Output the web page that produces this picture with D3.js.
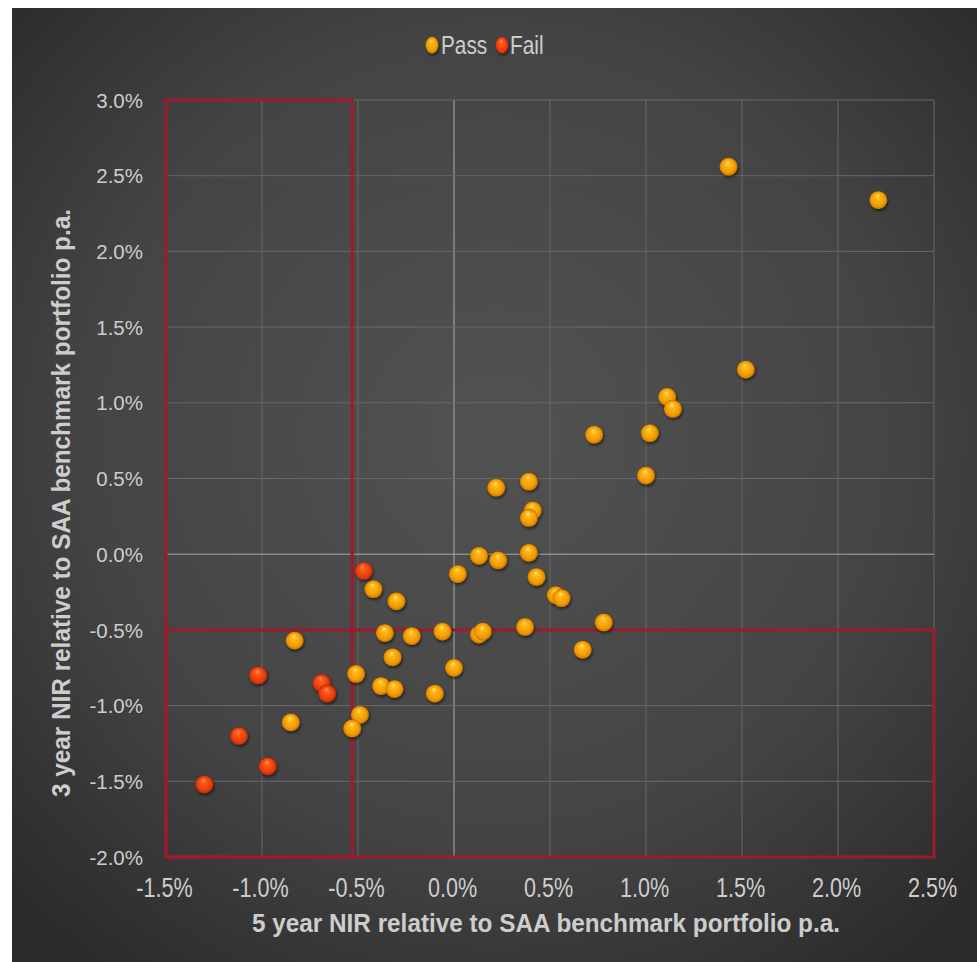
<!DOCTYPE html>
<html>
<head>
<meta charset="utf-8">
<script src="https://cdn.jsdelivr.net/npm/d3@7"></script>
<style>
  html, body { margin: 0; padding: 0; background: #ffffff; }
  svg { display: block; }
</style>
</head>
<body>
<svg id="chart" width="977" height="962"></svg>
<script>
// 5-year (x) and 3-year (y) net investment return relative to the SAA benchmark, % p.a.
const passX = [1.43, 2.21, 1.52, 1.11, 1.14, 0.73, 1.02, 1.00, 0.22, 0.39, 0.41, 0.39, 0.13, 0.23, 0.39, 0.02, 0.43, 0.53, 0.56,
               -0.42, -0.30, -0.36, -0.22, -0.06, 0.13, 0.15, 0.37, 0.78, 0.67, -0.32, 0.00, -0.51, -0.38, -0.31, -0.10, -0.83, -0.49, -0.53, -0.85];
const passY = [2.56, 2.34, 1.22, 1.04, 0.96, 0.79, 0.80, 0.52, 0.44, 0.48, 0.29, 0.24, -0.01, -0.04, 0.01, -0.13, -0.15, -0.27, -0.29,
               -0.23, -0.31, -0.52, -0.54, -0.51, -0.53, -0.51, -0.48, -0.45, -0.63, -0.68, -0.75, -0.79, -0.87, -0.89, -0.92, -0.57, -1.06, -1.15, -1.11];
const failX = [-0.47, -1.02, -0.69, -0.66, -1.12, -0.97, -1.30];
const failY = [-0.11, -0.80, -0.85, -0.92, -1.20, -1.40, -1.52];

const xTicks = [-1.5, -1.0, -0.5, 0.0, 0.5, 1.0, 1.5, 2.0, 2.5];
const yTicks = [-2.0, -1.5, -1.0, -0.5, 0.0, 0.5, 1.0, 1.5, 2.0, 2.5, 3.0];

// Underperformance zones outlined in red
const zoneX = -0.53;   // 5-year threshold
const zoneY = -0.5;    // 3-year threshold

const legendItems = ["Pass", "Fail"];

const W = 977, H = 962;
const plot = { left: 166, right: 934, top: 100, bottom: 857 };
const textColor = "#cdcdcd";
const sans = "'Liberation Sans', Arial, sans-serif";

const svg = d3.select("#chart");
const defs = svg.append("defs");

// Background gradient
const bg = defs.append("radialGradient").attr("id", "bgGrad")
  .attr("cx", "50%").attr("cy", "45%").attr("r", "70%");
bg.append("stop").attr("offset", "0%").attr("stop-color", "#525252");
bg.append("stop").attr("offset", "60%").attr("stop-color", "#444444");
bg.append("stop").attr("offset", "100%").attr("stop-color", "#2a2a2a");

// Sphere gradients
function sphere(id, stops) {
  const g = defs.append("radialGradient").attr("id", id)
    .attr("cx", "50%").attr("cy", "55%").attr("r", "55%")
    .attr("fx", "45%").attr("fy", "25%");
  stops.forEach(([o, c]) => g.append("stop").attr("offset", o).attr("stop-color", c));
}
sphere("passGrad", [["0%", "#ffe680"], ["25%", "#ffb81a"], ["70%", "#f09a00"], ["90%", "#c97400"], ["100%", "#8a5000"]]);
sphere("failGrad", [["0%", "#ffa070"], ["25%", "#ff5a1a"], ["70%", "#e83c08"], ["90%", "#b82a06"], ["100%", "#7a1a02"]]);

const shadow = defs.append("filter").attr("id", "shadow")
  .attr("x", "-50%").attr("y", "-50%").attr("width", "200%").attr("height", "200%");
shadow.append("feDropShadow").attr("dx", 1).attr("dy", 2).attr("stdDeviation", 1.6)
  .attr("flood-color", "#000").attr("flood-opacity", 0.55);

svg.append("rect").attr("x", 12).attr("y", 8).attr("width", W - 12).attr("height", H - 8)
  .attr("fill", "url(#bgGrad)");

const x = d3.scaleLinear().domain([-1.5, 2.5]).range([plot.left, plot.right]);
const y = d3.scaleLinear().domain([-2.0, 3.0]).range([plot.bottom, plot.top]);
const fmt = d => d3.format(".1f")(d).replace("\u2212", "-") + "%";

// Gridlines
const grid = svg.append("g");
grid.selectAll(".vx").data(xTicks).join("line")
  .attr("x1", d => x(d)).attr("x2", d => x(d))
  .attr("y1", plot.top).attr("y2", plot.bottom)
  .attr("stroke", d => d === 0 ? "#aaaaaa" : "#686868").attr("stroke-width", 1);
grid.selectAll(".hy").data(yTicks).join("line")
  .attr("x1", plot.left).attr("x2", plot.right)
  .attr("y1", d => y(d)).attr("y2", d => y(d))
  .attr("stroke", d => d === 0 ? "#aaaaaa" : "#686868").attr("stroke-width", 1);

// Axes (labels only)
const xAxis = svg.append("g").attr("transform", `translate(-2,${plot.bottom + 40})`)
  .call(d3.axisBottom(x).tickValues(xTicks).tickFormat(fmt).tickSize(0).tickPadding(0));
xAxis.select(".domain").remove();
xAxis.selectAll("text")
  .attr("fill", textColor)
  .attr("font-family", sans)
  .attr("font-size", 27).attr("dy", 0)
  .attr("transform", "scale(0.8,1)");

const yAxis = svg.append("g").attr("transform", `translate(${plot.left - 23},0)`)
  .call(d3.axisLeft(y).tickValues(yTicks).tickFormat(fmt).tickSize(0).tickPadding(0));
yAxis.select(".domain").remove();
yAxis.selectAll("text")
  .attr("fill", textColor)
  .attr("font-family", sans)
  .attr("font-size", 20.5).attr("dy", "0.35em");

// Red zone outlines
const zones = svg.append("g").attr("fill", "none").attr("stroke", "#9e1a2c").attr("stroke-width", 3);
zones.append("rect")
  .attr("x", x(-1.5)).attr("y", y(3.0))
  .attr("width", x(zoneX) - x(-1.5)).attr("height", y(-2.0) - y(3.0));
zones.append("rect")
  .attr("x", x(-1.5)).attr("y", y(zoneY))
  .attr("width", x(2.5) - x(-1.5)).attr("height", y(-2.0) - y(zoneY));

// Points
const passData = passX.map((v, i) => ({ x: v, y: passY[i] }));
const failData = failX.map((v, i) => ({ x: v, y: failY[i] }));
const R = 9;
svg.append("g").attr("filter", "url(#shadow)")
  .selectAll("circle").data(passData).join("circle")
  .attr("cx", d => x(d.x)).attr("cy", d => y(d.y)).attr("r", R)
  .attr("fill", "url(#passGrad)");
svg.append("g").attr("filter", "url(#shadow)")
  .selectAll("circle").data(failData).join("circle")
  .attr("cx", d => x(d.x)).attr("cy", d => y(d.y)).attr("r", R)
  .attr("fill", "url(#failGrad)");

// Axis titles
svg.append("text")
  .attr("x", 546).attr("y", 932).attr("text-anchor", "middle")
  .attr("font-family", sans).attr("font-weight", "bold").attr("font-size", 25)
  .attr("textLength", 588).attr("lengthAdjust", "spacingAndGlyphs")
  .attr("fill", textColor)
  .text("5 year NIR relative to SAA benchmark portfolio p.a.");
svg.append("text")
  .attr("transform", "translate(70,503) rotate(-90)").attr("text-anchor", "middle")
  .attr("font-family", sans).attr("font-weight", "bold").attr("font-size", 25)
  .attr("textLength", 588).attr("lengthAdjust", "spacingAndGlyphs")
  .attr("fill", textColor)
  .text("3 year NIR relative to SAA benchmark portfolio p.a.");

// Legend
const legend = svg.append("g");
const legendPos = [{ cx: 432, tx: 441 }, { cx: 502, tx: 510 }];
legendItems.forEach((name, i) => {
  legend.append("ellipse")
    .attr("cx", legendPos[i].cx).attr("cy", 45).attr("rx", 6.5).attr("ry", 8.5)
    .attr("fill", i === 0 ? "url(#passGrad)" : "url(#failGrad)")
    .attr("filter", "url(#shadow)");
  legend.append("text")
    .attr("transform", `translate(${legendPos[i].tx},54) scale(0.8,1)`)
    .attr("font-family", sans).attr("font-size", 26)
    .attr("fill", textColor).text(name);
});
</script>
</body>
</html>
